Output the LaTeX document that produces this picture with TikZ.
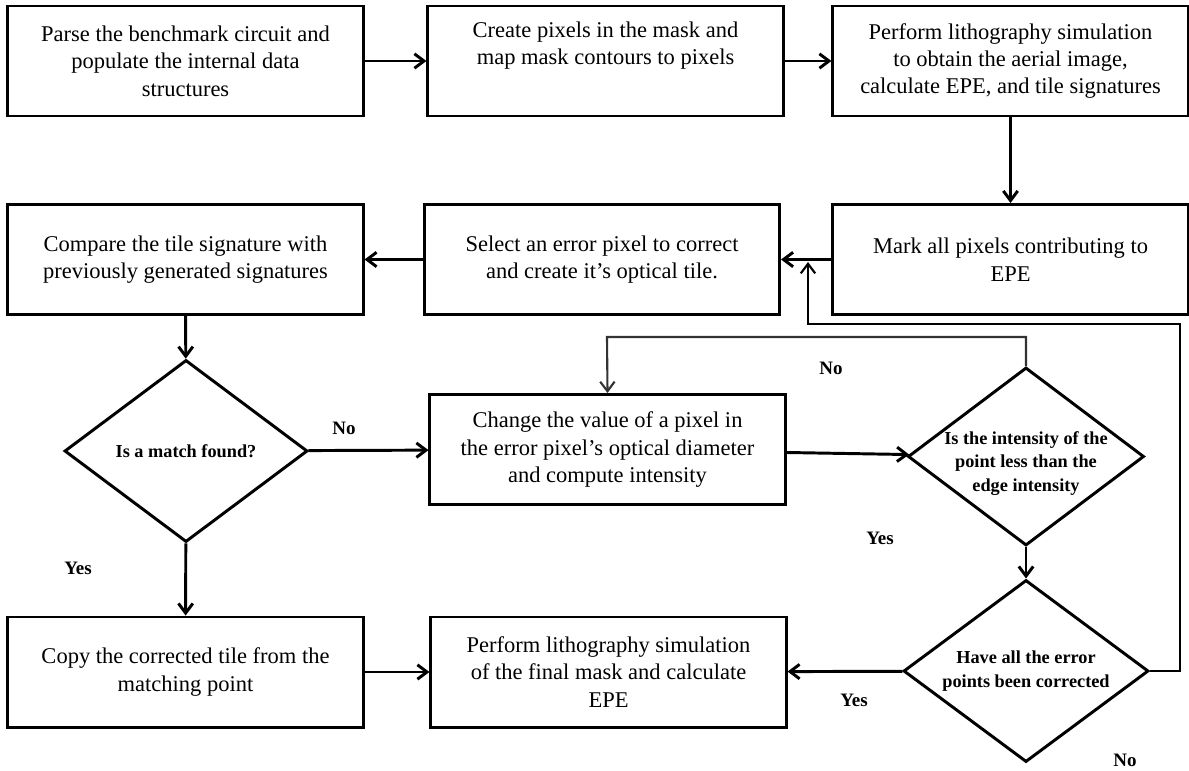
\documentclass[tikz,border=0pt]{standalone}
\usepackage{fontspec}
\setmainfont{Liberation Serif}
\usetikzlibrary{arrows.meta,shapes.geometric}

\tikzset{
  procbox/.style={draw,line width=2.1pt,minimum width=8.875cm,minimum height=2.75cm,align=center,inner sep=2pt,font=\fontsize{16}{19.5}\selectfont},
  decision/.style={draw,diamond,line width=2.1pt,inner sep=0pt},
  dtext/.style={align=center,font=\bfseries\fontsize{13}{17}\selectfont},
  ynlabel/.style={font=\bfseries\fontsize{13.5}{16}\selectfont},
  flow/.style={->,line width=2.1pt},
  backline/.style={->,line width=1.5pt}
}

\begin{document}
\begin{tikzpicture}[x=0.025cm,y=-0.025cm,>={Straight Barb[length=2.4mm,width=3.6mm]}]
\useasboundingbox (0,0) rectangle (1189,770);

\node[procbox] (parse) at (185.5,61) {Parse the benchmark circuit and\\populate the internal data\\structures};
\node[procbox] (pixels) at (605.5,61) {Create pixels in the mask and\\map mask contours to pixels\\\strut};
\node[procbox] (litho) at (1010.5,61) {Perform lithography simulation\\to obtain the aerial image,\\calculate EPE, and tile signatures};

\node[procbox] (compare) at (185.5,259.5) {Compare the tile signature with\\previously generated signatures};
\node[procbox] (select) at (602,259.5) {Select an error pixel to correct\\and create it’s optical tile.};
\node[procbox] (mark) at (1010.5,259.5) {Mark all pixels contributing to\\EPE};

\node[decision,minimum width=6.075cm,minimum height=4.55cm,label={[dtext]center:{Is a match found?}}] (match) at (186,451) {};
\node[procbox] (change) at (607.5,449.5) {Change the value of a pixel in\\the error pixel’s optical diameter\\and compute intensity};
\node[decision,minimum width=5.9cm,minimum height=4.45cm,label={[dtext,yshift=-5pt]center:{Is the intensity of the\\point less than the\\edge intensity}}] (intens) at (1026,456.5) {};

\node[procbox] (copy) at (185.5,672) {Copy the corrected tile from the\\matching point};
\node[procbox] (final) at (608.5,672) {Perform lithography simulation\\of the final mask and calculate\\EPE};
\node[decision,minimum width=6.125cm,minimum height=4.55cm,label={[dtext]center:{Have all the error\\points been corrected}}] (allfix) at (1026,671) {};

\node[ynlabel] (no1) at (344,428) {No};
\node[ynlabel] (no2) at (831,368) {No};
\node[ynlabel] (no3) at (1125,760) {No};
\node[ynlabel] (yes1) at (78,568) {Yes};
\node[ynlabel] (yes2) at (880,538) {Yes};
\node[ynlabel] (yes3) at (854,700) {Yes};

\coordinate (noturn) at (607,337);
\coordinate (rturn) at (1180,324);
\coordinate (merge) at (808,262);

\draw[flow] (parse) -- (pixels);
\draw[flow] (pixels) -- (litho);
\draw[flow] (litho) -- (mark);
\draw[flow] (mark) -- (select);
\draw[flow] (select) -- (compare);
\draw[flow] (compare) -- (match);
\draw[flow] (match) -- (change);
\draw[flow] (change) -- (intens);
\draw[flow] (intens) -- (allfix);
\draw[flow] (allfix) -- (final);
\draw[flow] (match) -- (copy);
\draw[flow] (copy) -- (final);
\draw[backline,draw=black!80] (intens.north) |- (noturn) -- (change.north);
\draw[backline] (allfix.east) -| (rturn) -| (merge);
\end{tikzpicture}
\end{document}
